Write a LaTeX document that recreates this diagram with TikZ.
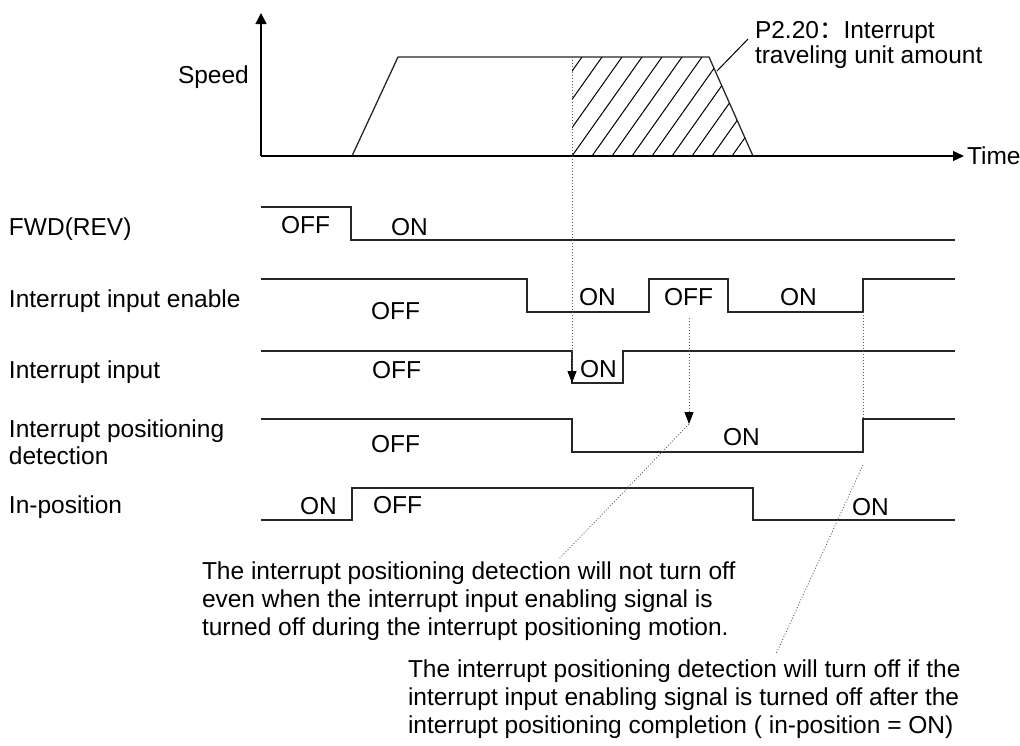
\documentclass[tikz,border=0pt]{standalone}
\usepackage{fontspec}
\setmainfont{Liberation Sans}
\newfontfamily\cjkfont{Noto Sans CJK SC}
\usetikzlibrary{arrows.meta}
\begin{document}
\begin{tikzpicture}[x=1pt,y=-1pt,
  font=\fontsize{24.5}{28}\selectfont,
  sig/.style={line width=1.3pt, draw=black!85, line join=miter},
  axis/.style={line width=1.3pt, draw=black},
  dotline/.style={dotted, line width=1pt, draw=black!65},
  tipdown/.style={-{Triangle[length=12pt,width=9pt,color=black,fill=black]}},
  txt/.style={anchor=base west, inner sep=0pt, outer sep=0pt}]
\useasboundingbox (0,0) rectangle (1020,745);

% ---------- speed graph ----------
\coordinate (O) at (261,156);
\coordinate (ytop) at (261,13);
\coordinate (xend) at (964,156);
\draw[axis, -{Triangle[length=11pt,width=11pt]}] (O) -- (ytop);
\draw[axis, -{Triangle[length=11pt,width=10pt]}] (O) -- (xend);
\node[txt] (speed) at (178,83) {Speed};
\node[txt] (time) at (967,164) {Time};

\coordinate (t0) at (352,156);
\coordinate (t1) at (398,57);
\coordinate (t2) at (709,57);
\coordinate (t3) at (753,156);
\draw[sig] (t0) -- (t1) -- (t2) -- (t3);

\begin{scope}
  \clip (572,57) -- (t2) -- (t3) -- (572,156) -- cycle;
  \foreach \i in {-5,...,10}
    \draw[line width=1pt] ({572+20*\i},156) -- ({642+20*\i},57);
\end{scope}

\node[txt] (p1) at (755,38) {P2.20{\cjkfont ：}Interrupt};
\node[txt] (p2) at (755,63) {traveling unit amount};
\coordinate (pl1) at (748,39);
\coordinate (pl2) at (717,71);
\draw[line width=1pt] (pl1) -- (pl2);

% ---------- signal labels ----------
\node[txt] (l1) at (9,235) {FWD(REV)};
\node[txt] (l2) at (9,307) {Interrupt input enable};
\node[txt] (l3) at (9,378) {Interrupt input};
\node[txt] (l4a) at (9,437) {Interrupt positioning};
\node[txt] (l4b) at (9,464) {detection};
\node[txt] (l5) at (9,513) {In-position};

% ---------- signals ----------
\draw[sig] (261,207) -- (351,207) -- (351,240) -- (955,240);
\draw[sig] (261,279) -- (527,279) -- (527,312) -- (649,312) -- (649,279)
  -- (728,279) -- (728,312) -- (863,312) -- (863,279) -- (955,279);
\draw[sig] (261,351) -- (572,351) -- (572,383) -- (623,383) -- (623,351) -- (955,351);
\draw[sig] (261,419) -- (572,419) -- (572,452) -- (863,452) -- (863,419) -- (955,419);
\draw[sig] (261,520) -- (352,520) -- (352,488) -- (753,488) -- (753,520) -- (955,520);

% ---------- state texts ----------
\node[txt] (s1) at (281,233) {OFF};
\node[txt] (s2) at (391,235) {ON};
\node[txt] (s3) at (371,319) {OFF};
\node[txt] (s4) at (579,305) {ON};
\node[txt] (s5) at (664,305) {OFF};
\node[txt] (s6) at (780,305) {ON};
\node[txt] (s7) at (372,378) {OFF};
\node[txt] (s8) at (580,377) {ON};
\node[txt] (s9) at (371,452) {OFF};
\node[txt] (s10) at (723,445) {ON};
\node[txt] (s11) at (300,514) {ON};
\node[txt] (s12) at (373,513) {OFF};
\node[txt] (s13) at (852,515) {ON};

% ---------- dotted guides ----------
\coordinate (d1a) at (572,57);
\coordinate (d1b) at (572,383);
\draw[dotline, tipdown] (d1a) -- (d1b);
\coordinate (d2a) at (689,318);
\coordinate (d2b) at (689,424);
\draw[dotline, tipdown] (d2a) -- (d2b);
\coordinate (d3a) at (863,312);
\coordinate (d3b) at (863,419);
\draw[dotline] (d3a) -- (d3b);

% ---------- annotations ----------
\node[txt] (a1) at (202,579) {The interrupt positioning detection will not turn off};
\node[txt] (a2) at (202,607) {even when the interrupt input enabling signal is};
\node[txt] (a3) at (202,635) {turned off during the interrupt positioning motion.};
\node[txt] (b1) at (408,677) {The interrupt positioning detection will turn off if the};
\node[txt] (b2) at (408,705) {interrupt input enabling signal is turned off after the};
\node[txt] (b3) at (408,733) {interrupt positioning completion ( in-position = ON)};

\coordinate (k1) at (559,559);
\draw[dotline, line width=0.9pt] (d2b) -- (k1);
\coordinate (k2a) at (863,465);
\coordinate (k2b) at (776,654);
\draw[dotline, line width=0.9pt] (k2a) -- (k2b);
\end{tikzpicture}
\end{document}
